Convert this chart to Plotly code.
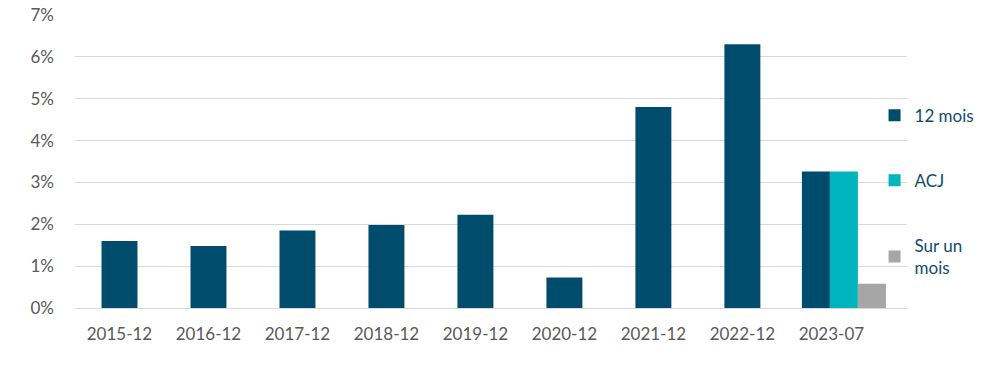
import plotly.graph_objects as go

categories = ["2015-12", "2016-12", "2017-12", "2018-12", "2019-12",
              "2020-12", "2021-12", "2022-12", "2023-07"]
douze_mois = [1.60, 1.48, 1.85, 1.98, 2.23, 0.73, 4.80, 6.30, 3.26]
acj_cat = ["2023-07"]
acj = [3.26]
sur_un_mois_cat = ["2023-07"]
sur_un_mois = [0.58]
y_ticks = [0, 1, 2, 3, 4, 5, 6, 7]
y_tick_labels = ["0%", "1%", "2%", "3%", "4%", "5%", "6%", "7%"]

DARK = "#004C6C"
CYAN = "#00B5BE"
GREY = "#A6A6A6"
FONT = "Lato"

n = len(categories)
w_main = [0.404] * (n - 1) + [0.315]
off_main = [-0.202] * (n - 1) + [-0.331]

fig = go.Figure()
fig.add_trace(go.Bar(x=categories, y=douze_mois, name="12 mois",
                     marker=dict(color=DARK, line=dict(width=0)),
                     width=w_main, offset=off_main, legendgroup="a"))
fig.add_trace(go.Bar(x=acj_cat, y=acj, name="ACJ",
                     marker=dict(color=CYAN, line=dict(width=0)),
                     width=[0.315], offset=[-0.017], legendgroup="b"))
fig.add_trace(go.Bar(x=sur_un_mois_cat, y=sur_un_mois, name="Sur un<br>mois",
                     marker=dict(color=GREY, line=dict(width=0)),
                     width=[0.315], offset=[0.298], legendgroup="c"))

fig.update_layout(
    width=1000, height=374,
    margin=dict(l=75, r=93, t=15, b=66, autoexpand=False),
    paper_bgcolor="white", plot_bgcolor="white",
    barmode="overlay",
    font=dict(family=FONT, size=17, color="#595959"),
    showlegend=True,
    legend=dict(x=0.961, y=0.718, xanchor="left", yanchor="top",
                traceorder="grouped", tracegroupgap=40,
                font=dict(family=FONT, size=17, color="#0E4D6B"),
                itemwidth=30, bgcolor="rgba(0,0,0,0)"),
    xaxis=dict(type="category", categoryorder="array", categoryarray=categories,
               range=[-0.5, 8.85], showgrid=False, showline=False,
               ticks="", ticklabelstandoff=14, automargin=False,
               tickfont=dict(size=17, color="#595959"), fixedrange=True),
    yaxis=dict(range=[0, 7], tickmode="array", tickvals=y_ticks, ticktext=y_tick_labels,
               showgrid=True, gridcolor="#D9D9D9", gridwidth=1,
               zeroline=True, zerolinecolor="#D9D9D9", zerolinewidth=1,
               showline=False, ticks="", ticklabelstandoff=20, automargin=False,
               tickfont=dict(size=17, color="#595959")),
)

fig.write_html("out.html")
